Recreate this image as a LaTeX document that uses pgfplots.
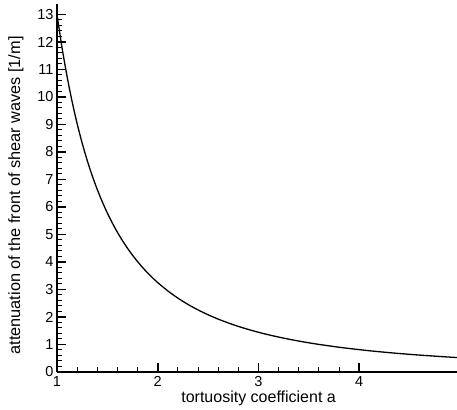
\documentclass[border=0pt]{standalone}
\usepackage{fontspec}
\setmainfont{Liberation Sans}
\usepackage{pgfplots}
\pgfplotsset{compat=1.18}
\begin{document}
\begin{tikzpicture}
\begin{axis}[
  width=400pt, height=368pt, scale only axis,
  xmin=1, xmax=4.97, ymin=0, ymax=13.38,
  axis x line*=bottom, axis y line*=left,
  xtick={1,2,3,4}, ytick={0,1,...,13},
  minor x tick num=4, minor y tick num=4,
  tick align=inside,
  major tick length=9pt, minor tick length=5pt,
  major tick style={black, line width=1.8pt},
  minor tick style={black, line width=1pt},
  axis line style={line width=1.8pt},
  tick label style={font=\fontsize{14.5}{14.5}\selectfont},
  xticklabel style={anchor=base, yshift=-14.7pt},
  xlabel={tortuosity coefficient a},
  ylabel={attenuation of the front of shear waves [1/m]},
  xlabel style={font=\fontsize{16}{16}\selectfont, at={(axis description cs:0.504,0)}, anchor=base, yshift=-30pt},
  ylabel style={font=\fontsize{16.3}{16.3}\selectfont, at={(axis description cs:-0.1025,0.48)}, anchor=center},
  /pgf/number format/assume math mode=true,
  clip=false,
]
\addplot[black, line width=1.3pt, smooth] coordinates {
(1.00,13.000) (1.05,11.791) (1.10,10.744) (1.15,9.830) (1.20,9.028)
(1.25,8.320) (1.30,7.692) (1.35,7.133) (1.40,6.633) (1.45,6.183)
(1.50,5.778) (1.55,5.411) (1.60,5.078) (1.65,4.775) (1.70,4.498)
(1.75,4.245) (1.80,4.012) (1.85,3.798) (1.90,3.601) (1.95,3.419)
(2.00,3.250) (2.10,2.948) (2.20,2.686) (2.30,2.457) (2.40,2.257)
(2.50,2.080) (2.60,1.923) (2.70,1.783) (2.80,1.658) (2.90,1.546)
(3.00,1.444) (3.10,1.353) (3.20,1.270) (3.30,1.194) (3.40,1.125)
(3.50,1.061) (3.60,1.003) (3.70,0.950) (3.80,0.900) (3.90,0.855)
(4.00,0.8125) (4.10,0.773) (4.20,0.737) (4.30,0.703) (4.40,0.671)
(4.50,0.642) (4.60,0.614) (4.70,0.589) (4.80,0.564) (4.90,0.541)
(4.97,0.526)
};
\coordinate (O) at (rel axis cs:0,0);
\end{axis}
\pgfresetboundingbox
\path ([shift={(-57pt,-37pt)}]O) rectangle ([shift={(400pt,372pt)}]O);
\end{tikzpicture}
\end{document}
